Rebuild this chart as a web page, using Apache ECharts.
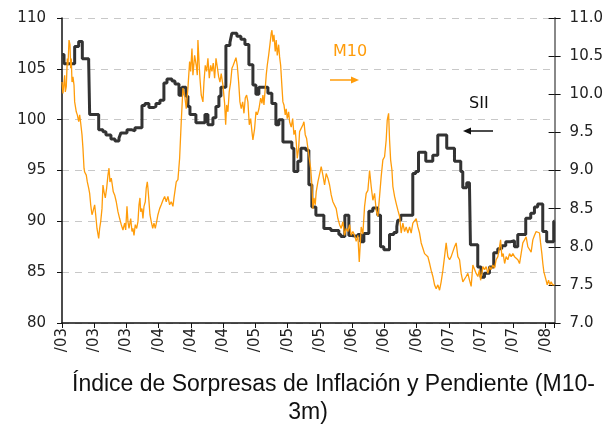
<!DOCTYPE html>
<html>
<head>
<meta charset="utf-8">
<script src="https://cdn.jsdelivr.net/npm/echarts@6/dist/echarts.min.js"></script>
<style>
  html, body { margin: 0; padding: 0; background: #fff; }
  #chart { width: 606px; height: 425px; }
</style>
</head>
<body>
<div id="chart"></div>
<script>
// eje x: meses desde ene/03, una marca cada 4 meses
const tickLabels = ['/03', '/03', '/03', '/04', '/04', '/04', '/05', '/05', '/05',
                    '/06', '/06', '/06', '/07', '/07', '/07', '/08'];

// SII (eje izquierdo), escalonado
const siiX = [0, 0.25, 1.57, 2.07, 2.52, 3.31, 3.43, 4.55, 5.08, 5.45,
  6.07, 6.57, 7.07, 7.31, 8.06, 8.68, 9.05, 9.92, 10.29, 10.78,
  11.4, 11.65, 12.15, 12.64, 13.02, 13.64, 14.01, 14.51, 14.88, 15.37,
  15.62, 15.87, 16.61, 17.73, 18.1, 18.72, 19.09, 19.46, 19.71, 20.33,
  20.83, 21.07, 21.69, 22.19, 22.69, 23.18, 23.68, 24.05, 24.42, 25.54,
  26.03, 26.53, 26.9, 27.4, 28.51, 28.76, 29.25, 29.63, 30.25, 30.62,
  30.99, 31.49, 32.48, 33.35, 34.34, 34.59, 35.08, 35.58, 35.95, 36.69,
  37.06, 37.44, 38.06, 38.55, 39.17, 39.51, 39.92, 40.62, 41.16, 41.53,
  41.65, 42.02, 43.51, 43.88, 44.22, 45.12, 45.99, 46.61, 47.72, 48.68,
  49.46, 49.71, 50.2, 50.54, 50.66, 51.2, 51.57, 51.98, 52.4, 53.02,
  53.55, 54.05, 54.54, 55.04, 55.66, 56.12, 56.53, 57.52, 58.14, 58.6,
  59.0, 59.63, 60.12, 60.99, 61.1];
const siiY = [106.4, 105.5, 107.2, 107.7, 106.0, 105.6, 100.5, 99.0, 98.8, 98.5,
  98.1, 97.9, 98.2, 98.7, 99.0, 98.9, 99.2, 101.4, 101.6, 101.2,
  101.3, 101.6, 101.9, 103.6, 104.0, 103.8, 103.5, 102.4, 103.2, 102.3,
  101.3, 100.5, 99.7, 100.5, 99.5, 100.2, 101.3, 102.3, 103.2, 107.3,
  107.6, 108.5, 108.2, 107.9, 107.4, 105.4, 103.4, 102.5, 103.2, 102.6,
  101.6, 99.5, 100.0, 97.8, 97.2, 94.9, 95.9, 97.2, 97.0, 93.6,
  91.4, 90.6, 89.3, 89.1, 88.7, 88.5, 90.6, 88.6, 88.5, 88.7,
  88.0, 88.8, 91.0, 91.3, 90.6, 87.5, 87.2, 88.7, 88.9, 89.5,
  90.1, 90.6, 94.7, 94.9, 96.8, 95.9, 96.5, 98.5, 97.2, 95.9,
  94.9, 93.3, 93.8, 93.6, 87.7, 87.7, 85.5, 84.5, 84.9, 85.5,
  86.9, 87.3, 87.6, 88.0, 88.1, 87.5, 88.7, 90.3, 90.8, 91.4,
  91.7, 89.0, 88.0, 90.0, 90.0];

// M10 (eje derecho)
const m10X = [0.00, 0.12, 0.33, 0.41, 0.53, 0.66, 0.74, 0.87, 0.99, 1.08,
  1.15, 1.24, 1.36, 1.49, 1.57, 1.77, 1.90, 2.07, 2.19, 2.32,
  2.48, 2.60, 2.73, 2.81, 3.01, 3.14, 3.31, 3.43, 3.56, 3.72,
  3.84, 4.05, 4.18, 4.34, 4.55, 4.67, 4.80, 4.96, 5.08, 5.21,
  5.37, 5.54, 5.70, 5.83, 5.95, 6.11, 6.24, 6.36, 6.53, 6.73,
  6.94, 7.15, 7.35, 7.56, 7.77, 7.90, 8.06, 8.18, 8.31, 8.52,
  8.68, 8.80, 8.93, 9.09, 9.26, 9.42, 9.55, 9.67, 9.76, 9.92,
  10.04, 10.17, 10.33, 10.45, 10.58, 10.66, 10.79, 10.91, 11.07, 11.25,
  11.41, 11.57, 11.74, 11.90, 12.11, 12.31, 12.52, 12.73, 12.93, 13.14,
  13.35, 13.55, 13.76, 13.89, 14.17, 14.38, 14.59, 14.79, 15.00, 15.21,
  15.41, 15.62, 15.83, 15.96, 16.12, 16.24, 16.45, 16.65, 16.78, 16.86,
  16.99, 17.11, 17.27, 17.48, 17.61, 17.77, 17.94, 18.10, 18.27, 18.44,
  18.60, 18.76, 18.93, 19.10, 19.26, 19.43, 19.59, 19.75, 19.96, 20.17,
  20.30, 20.42, 20.58, 20.74, 20.92, 21.08, 21.24, 21.41, 21.58, 21.74,
  21.91, 22.07, 22.23, 22.41, 22.57, 22.73, 22.90, 23.06, 23.23, 23.40,
  23.56, 23.68, 23.89, 24.06, 24.22, 24.43, 24.64, 24.80, 24.92, 25.05,
  25.21, 25.33, 25.46, 25.63, 25.79, 25.95, 26.04, 26.16, 26.29, 26.45,
  26.57, 26.70, 26.87, 26.99, 27.12, 27.28, 27.40, 27.53, 27.69, 27.81,
  27.94, 28.11, 28.23, 28.43, 28.61, 28.77, 28.93, 29.05, 29.18, 29.35,
  29.47, 29.67, 29.88, 30.01, 30.17, 30.34, 30.50, 30.67, 30.84, 31.00,
  31.12, 31.25, 31.41, 31.53, 31.74, 31.95, 32.15, 32.36, 32.57, 32.77,
  32.98, 33.19, 33.39, 33.60, 33.81, 34.01, 34.22, 34.43, 34.63, 34.84,
  35.05, 35.25, 35.46, 35.67, 35.87, 36.08, 36.29, 36.49, 36.70, 36.87,
  37.11, 37.32, 37.53, 37.73, 37.94, 38.15, 38.35, 38.56, 38.77, 38.97,
  39.18, 39.39, 39.59, 39.80, 40.01, 40.21, 40.34, 40.51, 40.63, 40.76,
  40.92, 41.04, 41.25, 41.45, 41.66, 41.87, 42.07, 42.28, 42.49, 42.69,
  42.90, 43.11, 43.31, 43.52, 43.73, 43.93, 44.14, 44.35, 44.55, 44.76,
  44.97, 45.17, 45.38, 45.60, 45.79, 46.00, 46.21, 46.41, 46.62, 46.83,
  47.03, 47.24, 47.45, 47.65, 47.86, 48.07, 48.27, 48.48, 48.69, 48.89,
  49.10, 49.31, 49.51, 49.72, 49.93, 50.13, 50.34, 50.55, 50.75, 50.96,
  51.17, 51.37, 51.58, 51.79, 51.92, 52.08, 52.20, 52.41, 52.61, 52.82,
  53.03, 53.23, 53.44, 53.65, 53.85, 54.06, 54.27, 54.40, 54.56, 54.72,
  54.90, 55.09, 55.30, 55.51, 55.71, 55.92, 56.13, 56.33, 56.54, 56.75,
  56.95, 57.16, 57.37, 57.57, 57.78, 57.99, 58.19, 58.40, 58.61, 58.81,
  59.02, 59.23, 59.36, 59.52, 59.64, 59.77, 59.93, 60.05, 60.18, 60.35,
  60.51, 60.67, 60.85, 61.01, 61.10];
const m10Y = [10.16, 10.01, 10.25, 10.03, 10.10, 10.47, 10.38, 10.71, 10.65, 10.34,
  10.47, 10.16, 10.23, 10.12, 9.90, 9.77, 9.73, 9.64, 9.73, 9.62,
  9.47, 9.29, 9.03, 8.98, 8.94, 8.85, 8.77, 8.70, 8.55, 8.42,
  8.46, 8.55, 8.42, 8.24, 8.11, 8.24, 8.33, 8.50, 8.81, 8.72,
  8.64, 8.77, 8.94, 9.03, 8.85, 8.90, 8.81, 8.72, 8.68, 8.59,
  8.46, 8.37, 8.29, 8.22, 8.31, 8.22, 8.53, 8.33, 8.24, 8.37,
  8.20, 8.24, 8.15, 8.29, 8.24, 8.33, 8.55, 8.64, 8.46, 8.50,
  8.37, 8.53, 8.59, 8.77, 8.85, 8.77, 8.59, 8.42, 8.33, 8.24,
  8.31, 8.24, 8.33, 8.42, 8.50, 8.55, 8.61, 8.66, 8.59, 8.66,
  8.55, 8.59, 8.53, 8.64, 8.85, 8.88, 9.16, 9.64, 10.08, 9.99,
  9.81, 10.08, 10.43, 10.30, 10.60, 10.25, 10.51, 10.38, 10.25, 10.71,
  10.43, 10.21, 9.99, 9.90, 10.16, 10.38, 10.30, 10.47, 10.21, 10.38,
  10.30, 10.41, 10.21, 10.47, 10.36, 10.23, 10.16, 10.27, 10.12, 9.88,
  9.60, 9.86, 9.77, 10.03, 10.16, 10.34, 10.38, 10.43, 10.48, 10.38,
  10.16, 9.90, 9.81, 9.90, 9.75, 9.95, 9.99, 9.90, 9.60, 9.68,
  9.51, 9.40, 9.55, 9.77, 9.73, 9.81, 9.95, 9.88, 9.99, 9.86,
  10.08, 10.25, 10.38, 10.51, 10.65, 10.80, 10.84, 10.69, 10.78, 10.56,
  10.71, 10.51, 10.65, 10.49, 10.38, 10.10, 9.90, 9.86, 9.73, 9.81,
  9.68, 9.77, 9.64, 9.57, 9.68, 9.47, 9.53, 9.38, 9.16, 9.29,
  9.51, 9.53, 9.60, 9.64, 9.47, 9.42, 9.29, 9.16, 9.03, 8.81,
  8.50, 8.64, 8.55, 8.72, 8.85, 8.85, 9.05, 8.94, 8.81, 8.96,
  8.90, 8.81, 8.68, 8.59, 8.59, 8.50, 8.37, 8.29, 8.24, 8.33,
  8.15, 8.24, 8.20, 8.29, 8.15, 8.20, 8.15, 8.07, 8.15, 7.80,
  8.26, 8.17, 8.53, 8.70, 8.74, 9.00, 8.79, 8.61, 8.70, 8.48,
  8.40, 8.66, 8.92, 9.14, 9.18, 9.40, 9.66, 9.75, 9.40, 9.14,
  9.01, 8.79, 8.66, 8.57, 8.48, 8.40, 8.18, 8.31, 8.20, 8.26,
  8.18, 8.26, 8.18, 8.31, 8.33, 8.37, 8.26, 8.18, 8.05, 7.98,
  7.91, 7.89, 7.87, 7.78, 7.69, 7.61, 7.50, 7.45, 7.50, 7.43,
  7.54, 7.69, 7.87, 8.05, 7.87, 7.83, 7.87, 7.87, 8.00, 8.05,
  7.87, 7.83, 7.65, 7.54, 7.52, 7.61, 7.65, 7.56, 7.48, 7.76,
  7.74, 7.65, 7.61, 7.70, 7.56, 7.65, 7.74, 7.70, 7.74, 7.65,
  7.74, 7.70, 7.76, 7.72, 7.83, 7.87, 8.00, 8.09, 7.87, 7.91,
  7.78, 7.87, 7.83, 7.91, 7.87, 7.91, 7.87, 7.85, 7.83, 7.78,
  7.91, 8.05, 8.09, 8.13, 8.00, 7.98, 7.93, 8.09, 8.15, 8.20,
  8.22, 8.18, 8.05, 7.91, 7.78, 7.67, 7.65, 7.56, 7.50, 7.56,
  7.50, 7.54, 7.50, 7.48, 7.50];

const ORANGE = '#ff9c0a';
const DARK = '#333333';
const FONT = '"DejaVu Sans", sans-serif';
const TITLE_FONT = '23px "Liberation Sans", Arial, sans-serif';

const chart = echarts.init(document.getElementById('chart'));

chart.setOption({
    animation: false,
    backgroundColor: '#fff',
    grid: { left: 62, right: 51, top: 18, bottom: 102, containLabel: false },
    xAxis: {
        type: 'value',
        min: 0,
        max: 61.1,
        interval: 4,
        splitLine: { show: false },
        axisLine: { lineStyle: { color: '#111', width: 1.5 } },
        axisTick: { length: 5, lineStyle: { color: '#111' } },
        axisLabel: {
            rotate: 90,
            margin: 5,
            color: '#222',
            fontFamily: FONT,
            fontSize: 15,
            formatter: v => (Math.abs(v % 4) < 1e-6 ? tickLabels[Math.round(v / 4)] : '')
        }
    },
    yAxis: [
        {
            type: 'value',
            position: 'left',
            min: 80, max: 110, interval: 5,
            axisLine: { show: true, lineStyle: { color: '#111', width: 1.5 } },
            axisTick: { show: true, length: 5, lineStyle: { color: '#111' } },
            axisLabel: { margin: 16, color: '#222', fontFamily: FONT, fontSize: 15 },
            splitLine: { show: true, lineStyle: { color: '#c8c8c8', type: [7, 6], width: 1 } }
        },
        {
            type: 'value',
            position: 'right',
            min: 7, max: 11, interval: 0.5,
            axisLine: { show: true, lineStyle: { color: '#888', width: 2 } },
            axisTick: { show: true, length: 6, lineStyle: { color: '#111' } },
            axisLabel: { margin: 15, color: '#222', fontFamily: FONT, fontSize: 15,
                         formatter: v => v.toFixed(1) },
            splitLine: { show: false }
        },
        {
            // solo marcas interiores del eje derecho
            type: 'value',
            position: 'right',
            min: 7, max: 11, interval: 0.5,
            axisLine: { show: false },
            axisTick: { show: true, inside: true, length: 6, lineStyle: { color: '#111' } },
            axisLabel: { show: false },
            splitLine: { show: false }
        }
    ],
    series: [
        {
            name: 'SII',
            type: 'line',
            yAxisIndex: 0,
            step: 'end',
            symbol: 'none',
            lineStyle: { color: DARK, width: 3 },
            data: siiX.map((x, i) => [x, siiY[i]])
        },
        {
            name: 'M10',
            type: 'line',
            yAxisIndex: 1,
            symbol: 'none',
            lineStyle: { color: ORANGE, width: 1.3 },
            data: m10X.map((x, i) => [x, m10Y[i]])
        }
    ],
    graphic: [
        { type: 'text', x: 333, y: 52, style: { text: 'M10', fill: ORANGE, font: '16px ' + FONT, verticalAlign: 'middle' } },
        { type: 'line', shape: { x1: 330, y1: 80, x2: 353, y2: 80 }, style: { stroke: ORANGE, lineWidth: 1.5 } },
        { type: 'polygon', shape: { points: [[359, 80], [351, 76.5], [351, 83.5]] }, style: { fill: ORANGE } },
        { type: 'text', x: 469, y: 104, style: { text: 'SII', fill: '#111', font: '16px ' + FONT, verticalAlign: 'middle' } },
        { type: 'line', shape: { x1: 469, y1: 131, x2: 493, y2: 131 }, style: { stroke: '#111', lineWidth: 1.5 } },
        { type: 'polygon', shape: { points: [[463, 131], [471, 127.5], [471, 134.5]] }, style: { fill: '#111' } },
        { type: 'text', x: 72, y: 385, style: { text: 'Índice de Sorpresas de Inflación y Pendiente (M10-', fill: '#111',
            font: TITLE_FONT, verticalAlign: 'middle' } },
        { type: 'text', x: 308, y: 413, style: { text: '3m)', fill: '#111',
            font: TITLE_FONT, align: 'center', verticalAlign: 'middle' } }
    ]
});
</script>
</body>
</html>
